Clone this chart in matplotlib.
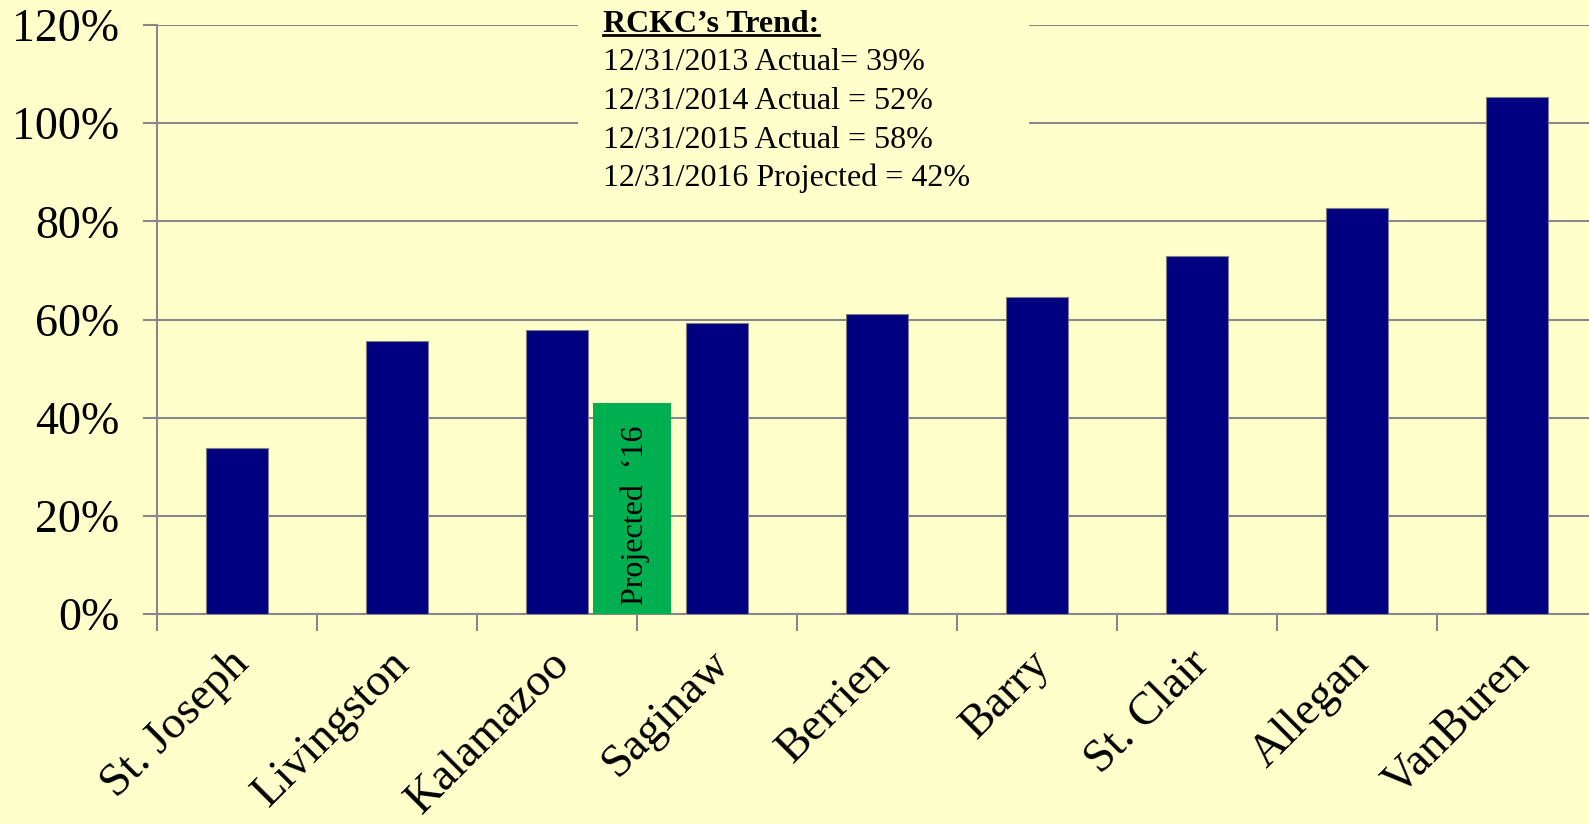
import numpy as np
import matplotlib.pyplot as plt
from matplotlib.lines import Line2D
from matplotlib.transforms import ScaledTranslation

# Data
counties = ["St. Joseph", "Livingston", "Kalamazoo", "Saginaw", "Berrien",
            "Barry", "St. Clair", "Allegan", "VanBuren"]
values = [33.8, 55.7, 57.8, 59.2, 61.1, 64.6, 73.0, 82.7, 105.4]
projected_value = 43.0
projected_pos = 2.47   # sits between Kalamazoo and Saginaw
projected_label = "Projected  \u201816"
yticks = [0, 20, 40, 60, 80, 100, 120]
trend_title = "RCKC\u2019s Trend:"
trend_lines = ["12/31/2013 Actual= 39%",
               "12/31/2014 Actual = 52%",
               "12/31/2015 Actual = 58%",
               "12/31/2016 Projected = 42%"]

bg = "#FFFFCC"
navy = "#000080"
green = "#00B050"
grid_c = "#888888"

plt.rcParams['font.family'] = ['Liberation Serif', 'DejaVu Serif']

fig = plt.figure(figsize=(15.89, 8.24), dpi=100, facecolor=bg)
ax = fig.add_axes([157/1589, 210/824, 1440/1589, 589/824], facecolor=bg)

x = np.arange(len(counties))
ax.bar(x, values, width=0.39, color=navy, edgecolor="#7f7f7f", linewidth=0.8, zorder=3)
ax.bar(projected_pos, projected_value, width=0.49, color=green, zorder=3)
ax.text(projected_pos + 0.02, projected_value * 0.47, projected_label, rotation=90,
        ha='center', va='center', fontsize=23, color='black', zorder=4)

ax.set_xlim(-0.5, len(counties) - 0.5)
ax.set_ylim(0, 120)
ax.set_yticks(yticks)
ax.set_yticklabels([f"{v}%" for v in yticks], fontsize=33)
ax.yaxis.grid(True, color=grid_c, linewidth=1.5, zorder=0)
ax.tick_params(axis='y', length=10, width=1.5, color=grid_c, pad=17)

ax.set_xticks(x)
ax.set_xticklabels(counties, fontsize=33.5, rotation=45, ha='right',
                   va='center', rotation_mode='anchor')
ax.tick_params(axis='x', length=0, pad=31)
shift = ScaledTranslation(6/100, 0, fig.dpi_scale_trans)
for lab in ax.get_xticklabels():
    lab.set_transform(lab.get_transform() + shift)
ax.set_xticks(np.arange(-0.5, len(counties), 1), minor=True)
ax.tick_params(axis='x', which='minor', length=12, width=1.5, color=grid_c)

for s in ['top', 'right']:
    ax.spines[s].set_visible(False)
for s in ['left', 'bottom']:
    ax.spines[s].set_color(grid_c)
    ax.spines[s].set_linewidth(1.5)

# Trend box covering the gridlines at the top
ax.add_patch(plt.Rectangle((578/1589, 1 - 200/824), (1029 - 578)/1589, 200/824,
                           transform=fig.transFigure, facecolor=bg,
                           edgecolor='none', zorder=5))
tx = 603/1589
t = fig.text(tx, 1 - 24/824, trend_title, fontsize=23, fontweight='bold',
             ha='left', va='center', zorder=6)
for i, line in enumerate(trend_lines):
    fig.text(tx, 1 - (63 + 38.5*i)/824, line, fontsize=23, ha='left',
             va='center', zorder=6)

# underline the title
fig.canvas.draw()
bb = t.get_window_extent().transformed(fig.transFigure.inverted())
fig.add_artist(Line2D([bb.x0, bb.x1], [bb.y0 + 0.004, bb.y0 + 0.004],
                      transform=fig.transFigure, color='black', linewidth=2))

fig.savefig("out.png", dpi=100, facecolor=bg)
